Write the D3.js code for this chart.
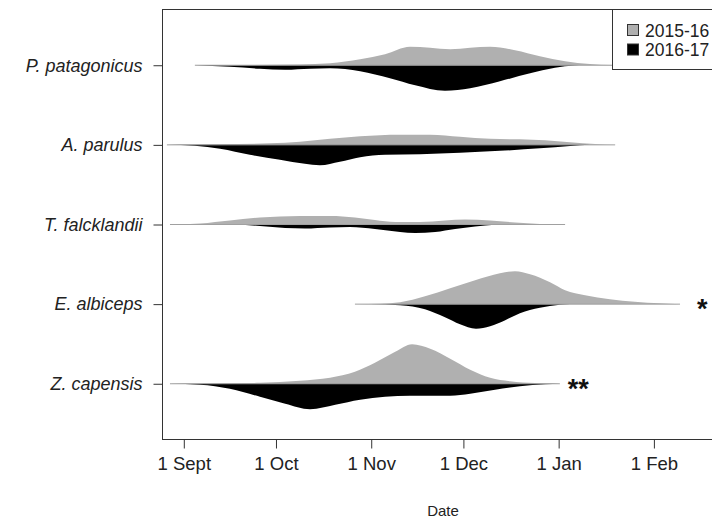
<!DOCTYPE html>
<html><head><meta charset="utf-8">
<script src="https://cdn.jsdelivr.net/npm/d3@7"></script>
<style>body{margin:0;background:#fff}svg{display:block}</style>
</head><body><svg id="c" width="712" height="519"></svg>
<script>
// ---- data ----
const species = ["P. patagonicus", "A. parulus", "T. falcklandii", "E. albiceps", "Z. capensis"];
const seasons = ["2015-16", "2016-17"];
const seasonColors = ["#b0b0b0", "#000000"];
const tickDates = ["2015-09-01", "2015-10-01", "2015-11-01", "2015-12-01", "2016-01-01", "2016-02-01"];
const tickLabels = ["1 Sept", "1 Oct", "1 Nov", "1 Dec", "1 Jan", "1 Feb"];
const significance = ["", "", "", "*", "**"];
const significanceDay = [null, null, null, 167, 125];   // days after 1 Sept where the marker sits

// density curves: [days after 1 Sept, density x1000 (per day)]
const pPatagonicus2015 = [[3.6,0],[21.5,0.3],[37.8,0.8],[47.6,2],[57.4,6],[65.5,11],[73.6,18.5],[80.2,17.5],[86.7,16],[93.2,17.5],[99.7,18.5],[107.8,15],[115.9,9],[124.1,4],[132.2,1.2],[139.4,0.2],[143,0]];
const pPatagonicus2016 = [[3.6,0],[15.0,1.5],[24.8,3.5],[33.0,4.5],[41.1,3.5],[47.6,3],[57.4,6],[67.1,13],[75.3,20],[85.0,25.5],[93.2,23],[102.9,16],[112.7,8],[120.8,2.5],[127.3,0.3],[130,0]];
const aParulus2015 = [[-5.5,0],[11.8,0.5],[28.0,1.5],[37.8,3],[47.6,6],[57.4,8.5],[70.4,10],[80.2,10],[89.9,8],[99.7,6],[109.4,5.5],[117.6,4.5],[125.7,2.5],[133.9,0.8],[140.4,0]];
const aParulus2016 = [[-5.5,0],[3.6,1],[11.8,4],[21.5,10],[31.3,15],[39.4,19],[44.3,20.5],[50.8,17],[57.4,12.5],[65.5,10],[76.9,9.5],[89.9,8],[102.9,6],[115.9,3.5],[125.7,1.2],[132.2,0]];
const tFalcklandii2015 = [[-4.5,0],[5.3,1],[15.0,4],[24.8,7],[37.8,8.5],[47.6,8.5],[55.7,7],[62.2,4.5],[68.8,2.5],[76.9,2.5],[85.0,4],[91.5,5],[99.7,4],[107.8,2],[115.9,0.6],[124.1,0]];
const tFalcklandii2016 = [[16.7,0],[24.8,1.5],[33.0,3.5],[39.4,4],[47.6,3],[54.1,2.5],[62.2,4.5],[70.4,7.5],[75.3,8.5],[81.8,7.5],[88.3,4.5],[94.8,2],[101.3,0.3],[104.6,0]];
const eAlbiceps2015 = [[55.7,0],[63.9,0.5],[70.4,2],[78.5,8],[86.7,16],[94.8,24],[102.9,31],[107.8,33],[112.7,30],[119.2,22],[124.1,14],[130.6,9],[138.7,5],[146.8,2.5],[155.0,0.8],[161.5,0]];
const eAlbiceps2016 = [[60.6,0],[70.4,1],[78.5,5],[85.0,13],[89.9,20],[95.1,24.5],[99.7,22],[104.6,16],[109.4,9],[115.9,3.5],[122.4,0.5],[125.7,0]];
const zCapensis2015 = [[-4.5,0],[11.8,0.3],[24.8,1],[37.8,3],[47.6,6],[55.7,12],[62.2,21],[68.8,32],[74.3,39.5],[80.2,35],[86.7,25],[93.2,14],[99.7,6],[106.2,2.5],[114.3,0.7],[122.4,0]];
const zCapensis2016 = [[-4.5,0],[5.3,1],[15.0,5],[24.8,13],[33.0,20],[41.1,25.5],[49.3,21],[57.4,16],[65.5,13],[73.6,12],[80.2,12],[86.7,12],[93.2,10],[101.3,6],[109.4,2.5],[117.6,0.5],[122.4,0]];

const series2015 = [pPatagonicus2015, aParulus2015, tFalcklandii2015, eAlbiceps2015, zCapensis2015];
const series2016 = [pPatagonicus2016, aParulus2016, tFalcklandii2016, eAlbiceps2016, zCapensis2016];

// ---- drawing ----
const svg = d3.select("#c");
const W = 712, H = 519;
const box = {left: 162.5, top: 9.5, right: 730, bottom: 439.5};
const font = "Liberation Sans, Arial, Helvetica, sans-serif";

const start = new Date(Date.UTC(2015, 8, 1));
const dayToDate = d => new Date(start.getTime() + d * 86400000);
const x = d3.scaleUtc().domain([start, new Date(Date.UTC(2016, 1, 1))]).range([183.8, 653.9]);
const y = d3.scaleLinear().domain([0.3, 5.7]).range([box.top, box.bottom]);
const h = d3.scaleLinear().domain([0, 1]).range([0, 1]);  // density x1000 -> px

svg.append("rect").attr("width", W).attr("height", H).attr("fill", "#fff");

const beans = svg.append("g");
species.forEach((sp, i) => {
  const yc = y(i + 1);
  const upper = d3.area().curve(d3.curveMonotoneX)
    .x(d => x(dayToDate(d[0]))).y0(yc).y1(d => yc - h(d[1]));
  const lower = d3.area().curve(d3.curveMonotoneX)
    .x(d => x(dayToDate(d[0]))).y0(yc).y1(d => yc + h(d[1]));
  beans.append("path").datum(series2015[i]).attr("d", upper).attr("fill", seasonColors[0]);
  beans.append("path").datum(series2016[i]).attr("d", lower).attr("fill", seasonColors[1]);
  const all = series2015[i].concat(series2016[i]);
  const x0 = x(dayToDate(d3.min(all, d => d[0])));
  const x1 = x(dayToDate(d3.max(all, d => d[0])));
  beans.append("line").attr("x1", x0).attr("x2", x1).attr("y1", yc).attr("y2", yc)
    .attr("stroke", "#a0a0a0").attr("stroke-width", 1);
  if (significance[i]) {
    svg.append("text").attr("x", x(dayToDate(significanceDay[i]))).attr("y", yc + 14)
      .attr("font-family", font).attr("font-size", 27).attr("font-weight", "bold")
      .attr("fill", "#111").text(significance[i]);
  }
});

// box
svg.append("rect").attr("x", box.left).attr("y", box.top)
  .attr("width", box.right - box.left).attr("height", box.bottom - box.top)
  .attr("fill", "none").attr("stroke", "#333").attr("stroke-width", 1);

// x axis
const xAxis = d3.axisBottom(x)
  .tickValues(tickDates.map(s => new Date(s + "T00:00:00Z")))
  .tickFormat((d, i) => tickLabels[i]).tickSize(9).tickPadding(8);
const gx = svg.append("g").attr("transform", `translate(0,${box.bottom})`).call(xAxis);
gx.select(".domain").remove();
gx.selectAll("line").attr("stroke", "#333");
gx.selectAll("text").attr("font-family", font).attr("font-size", 18.5).attr("fill", "#222");

// y axis
const yAxis = d3.axisLeft(y).tickValues([1, 2, 3, 4, 5])
  .tickFormat((d, i) => species[i]).tickSize(9).tickPadding(11);
const gy = svg.append("g").attr("transform", `translate(${box.left},0)`).call(yAxis);
gy.select(".domain").remove();
gy.selectAll("line").attr("stroke", "#333");
gy.selectAll("text").attr("font-family", font).attr("font-size", 18)
  .attr("font-style", "italic").attr("fill", "#222");

// axis title
svg.append("text").attr("x", 443).attr("y", 516).attr("text-anchor", "middle")
  .attr("font-family", font).attr("font-size", 15).attr("fill", "#222").text("Date");

// legend
const lg = svg.append("g");
lg.append("rect").attr("x", 612.5).attr("y", box.top).attr("width", 120).attr("height", 60)
  .attr("fill", "#fff").attr("stroke", "#333").attr("stroke-width", 1);
seasons.forEach((s, i) => {
  const cy = 30 + i * 19.5;
  lg.append("rect").attr("x", 627.5).attr("y", cy - 5.5).attr("width", 11).attr("height", 11)
    .attr("fill", seasonColors[i]).attr("stroke", "#333").attr("stroke-width", 1);
  lg.append("text").attr("x", 645).attr("y", cy + 6.5).attr("font-family", font)
    .attr("font-size", 17.5).attr("fill", "#222").text(s);
});
</script></body></html>
